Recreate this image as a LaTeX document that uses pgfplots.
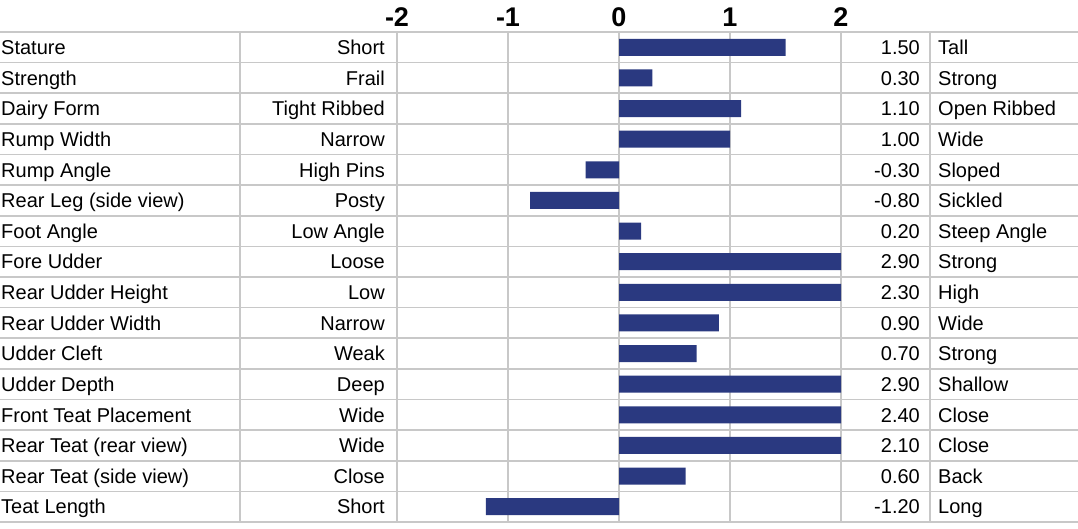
\documentclass[border=0pt]{standalone}
\usepackage{pgfplots}
\pgfplotsset{compat=1.18}
\usepackage{fontspec}
\setmainfont{Liberation Sans}
\definecolor{barc}{RGB}{42,57,128}
\definecolor{gridc}{RGB}{200,200,200}
\begin{document}
\begin{tikzpicture}
\useasboundingbox (0,0) rectangle (1078pt,-528pt);
% horizontal row lines
\foreach \k in {0,...,16} {
  \draw[gridc, line width=1.6pt] (0pt,{-32pt-30.625pt*\k}) -- (1078pt,{-32pt-30.625pt*\k});
}
% vertical column lines
\foreach \x in {240,397,841,930} {
  \draw[gridc, line width=1.6pt] (\x pt,-32pt) -- (\x pt,-522pt);
}
% text columns
\foreach \i/\t/\l/\v/\r in {
1/Stature/Short/1.50/Tall,
2/Strength/Frail/0.30/Strong,
3/Dairy Form/Tight Ribbed/1.10/Open Ribbed,
4/Rump Width/Narrow/1.00/Wide,
5/Rump Angle/High Pins/-0.30/Sloped,
6/Rear Leg (side view)/Posty/-0.80/Sickled,
7/Foot Angle/Low Angle/0.20/Steep Angle,
8/Fore Udder/Loose/2.90/Strong,
9/Rear Udder Height/Low/2.30/High,
10/Rear Udder Width/Narrow/0.90/Wide,
11/Udder Cleft/Weak/0.70/Strong,
12/Udder Depth/Deep/2.90/Shallow,
13/Front Teat Placement/Wide/2.40/Close,
14/Rear Teat (rear view)/Wide/2.10/Close,
15/Rear Teat (side view)/Close/0.60/Back,
16/Teat Length/Short/-1.20/Long} {
  \pgfmathsetmacro{\yc}{-32-30.625*(\i-0.5)-7.3}
  \begin{scope}[every node/.style={inner sep=0pt, font=\fontsize{20}{20}\selectfont}]
  \node[anchor=base west] at (1pt,\yc pt) {\t};
  \node[anchor=base east] at (385pt,\yc pt) {\l};
  \node[anchor=base east] at (920pt,\yc pt) {\v};
  \node[anchor=base west] at (938pt,\yc pt) {\r};
  \end{scope}
}
\begin{axis}[
  at={(397pt,-522pt)}, anchor=south west,
  scale only axis, width=444pt, height=490pt,
  xmin=-2, xmax=2, ymin=0.5, ymax=16.5, y dir=reverse,
  xbar, bar width=17pt,
  xtick={-2,-1,0,1,2}, xticklabels={-2,-1,0,1,2},
  xticklabel pos=upper,
  xticklabel style={font=\fontsize{27}{27}\selectfont\bfseries, inner sep=0pt, yshift=5pt},
  ytick=\empty,
  major tick length=0pt,
  tick style={draw=none},
  xmajorgrids,
  grid style={gridc, line width=1.6pt},
  axis line style={gridc, line width=1.6pt},
]
\addplot[fill=barc, draw=none] coordinates {
(1.50,1) (0.30,2) (1.10,3) (1.00,4) (-0.30,5) (-0.80,6) (0.20,7) (2.90,8)
(2.30,9) (0.90,10) (0.70,11) (2.90,12) (2.40,13) (2.10,14) (0.60,15) (-1.20,16)};
\end{axis}
\end{tikzpicture}
\end{document}
